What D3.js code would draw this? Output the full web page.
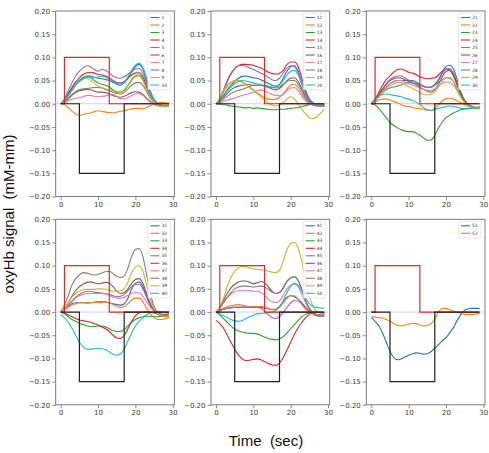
<!DOCTYPE html>
<html>
<head>
<meta charset="utf-8">
<script src="https://cdn.jsdelivr.net/npm/d3@7/dist/d3.min.js"></script>
<style>
  body { margin: 0; background: #fff; }
  text { font-family: "DejaVu Sans", sans-serif; }
  .big-label { font-family: "Liberation Sans", Arial, sans-serif; white-space: pre; }
</style>
</head>
<body>
<div id="chart"></div>
<script>

// time axis (sec) and tick values
var time = [0,1,2,3,4,5,6,7,8,9,10,11,12,13,14,15,16,17,18,19,20,21,22,23,24,25,26,27,28,29];
var ticks_x = [0, 10, 20, 30];
var ticks_y = [-0.20, -0.15, -0.10, -0.05, 0.00, 0.05, 0.10, 0.15, 0.20];

// matplotlib default colour cycle
var colours = ["#1f77b4", "#ff7f0e", "#2ca02c", "#d62728", "#9467bd",
               "#8c564b", "#e377c2", "#7f7f7f", "#bcbd22", "#17becf"];

// stimulus boxes
var red_box_x = [0, 1, 1, 13, 13, 29];
var red_box_y = [0, 0, 0.10, 0.10, 0, 0];
var black_box_x = [0, 5, 5, 17, 17, 29];
var black_box_y = [0, 0, -0.15, -0.15, 0, 0];

// channel names per panel
var channels_1 = ["1","2","3","4","5","6","7","8","9","10"];
var channels_2 = ["11","12","13","14","15","16","17","18","19","20"];
var channels_3 = ["21","22","23","24","25","26","27","28","29","30"];
var channels_4 = ["31","32","33","34","35","36","37","38","39","40"];
var channels_5 = ["41","42","43","44","45","46","47","48","49","50"];
var channels_6 = ["51","52"];

// oxyHb signal per channel, one value per second
var values_1 = [
  [0,0.008,0.02,0.032,0.042,0.05,0.056,0.06,0.06,0.057,0.055,0.054,0.052,0.05,0.046,0.042,0.04,0.045,0.055,0.068,0.08,0.085,0.075,0.05,0.025,0.008,0,-0.005,-0.005,-0.004],
  [0,-0.002,-0.008,-0.016,-0.022,-0.025,-0.023,-0.021,-0.02,-0.017,-0.015,-0.016,-0.018,-0.019,-0.02,-0.018,-0.016,-0.015,-0.013,-0.011,-0.01,-0.01,-0.011,-0.008,-0.004,0,0.002,0.003,0.002,0.001],
  [0,0.006,0.018,0.03,0.042,0.05,0.056,0.058,0.056,0.05,0.045,0.042,0.04,0.036,0.03,0.026,0.025,0.03,0.04,0.052,0.06,0.062,0.052,0.034,0.016,0.005,-0.002,-0.005,-0.006,-0.004],
  [0,0.008,0.022,0.035,0.047,0.056,0.063,0.067,0.068,0.066,0.063,0.062,0.06,0.056,0.05,0.046,0.045,0.048,0.055,0.062,0.066,0.067,0.058,0.038,0.018,0.005,-0.002,-0.005,-0.006,-0.004],
  [0,0.01,0.028,0.045,0.06,0.07,0.078,0.082,0.08,0.074,0.07,0.074,0.072,0.066,0.06,0.056,0.055,0.058,0.064,0.07,0.075,0.076,0.066,0.045,0.022,0.007,0,-0.004,-0.005,-0.003],
  [0,0.003,0.01,0.018,0.024,0.028,0.03,0.031,0.03,0.027,0.025,0.025,0.024,0.021,0.018,0.015,0.014,0.016,0.02,0.024,0.026,0.025,0.02,0.012,0.005,0,-0.003,-0.005,-0.006,-0.005],
  [0,0.002,0.006,0.01,0.012,0.013,0.015,0.018,0.018,0.016,0.015,0.016,0.017,0.019,0.02,0.016,0.011,0.01,0.013,0.018,0.021,0.022,0.018,0.01,0.003,-0.002,-0.005,-0.006,-0.006,-0.005],
  [0,0.004,0.012,0.02,0.026,0.03,0.032,0.033,0.034,0.035,0.035,0.034,0.031,0.028,0.025,0.022,0.021,0.024,0.032,0.04,0.045,0.046,0.04,0.026,0.012,0.003,-0.001,-0.003,-0.004,-0.003],
  [0,0.006,0.016,0.028,0.04,0.048,0.053,0.055,0.05,0.044,0.038,0.035,0.032,0.03,0.027,0.024,0.024,0.028,0.038,0.05,0.058,0.06,0.05,0.032,0.015,0.004,-0.003,-0.006,-0.007,-0.005],
  [0,0.006,0.018,0.03,0.04,0.048,0.054,0.058,0.058,0.056,0.058,0.06,0.057,0.053,0.048,0.044,0.042,0.047,0.058,0.072,0.083,0.087,0.078,0.055,0.028,0.01,0.002,-0.003,-0.004,-0.003]
];
var values_2 = [
  [0,0.006,0.018,0.03,0.04,0.048,0.055,0.059,0.06,0.058,0.056,0.055,0.052,0.048,0.044,0.04,0.038,0.042,0.055,0.07,0.08,0.082,0.07,0.045,0.02,0.006,0,-0.003,-0.004,-0.003],
  [0,0.01,0.025,0.038,0.046,0.05,0.05,0.046,0.042,0.036,0.03,0.024,0.018,0.013,0.01,0.009,0.01,0.014,0.022,0.032,0.04,0.042,0.035,0.022,0.01,0.002,-0.002,-0.004,-0.005,-0.004],
  [0,-0.001,-0.002,-0.003,-0.005,-0.006,-0.007,-0.008,-0.009,-0.008,-0.01,-0.009,-0.01,-0.011,-0.012,-0.013,-0.013,-0.012,-0.012,-0.011,-0.01,-0.009,-0.008,-0.006,-0.004,-0.002,0,0,-0.001,-0.001],
  [0,0.01,0.028,0.048,0.064,0.075,0.082,0.085,0.085,0.084,0.083,0.08,0.077,0.073,0.068,0.065,0.064,0.066,0.072,0.085,0.09,0.09,0.08,0.055,0.028,0.01,0.002,-0.002,-0.004,-0.003],
  [0,0.01,0.03,0.05,0.066,0.076,0.082,0.083,0.081,0.077,0.074,0.07,0.066,0.062,0.057,0.052,0.05,0.055,0.066,0.077,0.082,0.08,0.068,0.045,0.022,0.007,0,-0.004,-0.005,-0.004],
  [0,0.005,0.014,0.022,0.03,0.035,0.038,0.04,0.041,0.041,0.04,0.04,0.04,0.038,0.035,0.032,0.03,0.033,0.04,0.05,0.055,0.056,0.048,0.032,0.015,0.004,-0.002,-0.005,-0.006,-0.005],
  [0,0.002,0.005,0.008,0.01,0.012,0.015,0.018,0.02,0.022,0.025,0.028,0.03,0.028,0.024,0.02,0.018,0.017,0.02,0.028,0.034,0.035,0.028,0.016,0.006,0,-0.003,-0.005,-0.005,-0.004],
  [0,0.004,0.01,0.016,0.022,0.026,0.029,0.031,0.034,0.037,0.04,0.04,0.04,0.039,0.037,0.035,0.034,0.036,0.042,0.048,0.05,0.05,0.042,0.028,0.013,0.003,-0.002,-0.004,-0.005,-0.004],
  [0,0.012,0.028,0.04,0.046,0.048,0.05,0.048,0.042,0.035,0.028,0.022,0.015,0.008,0.002,-0.003,-0.005,-0.003,0.002,0.01,0.015,0.01,0,-0.012,-0.022,-0.03,-0.032,-0.028,-0.02,-0.012],
  [0,0.006,0.016,0.027,0.036,0.043,0.048,0.05,0.049,0.047,0.045,0.043,0.041,0.04,0.038,0.036,0.035,0.04,0.05,0.062,0.07,0.072,0.062,0.04,0.018,0.005,-0.001,-0.004,-0.005,-0.004]
];
var values_3 = [
  [0,0.008,0.018,0.028,0.036,0.043,0.048,0.05,0.05,0.05,0.05,0.05,0.047,0.042,0.038,0.035,0.036,0.042,0.052,0.068,0.08,0.083,0.075,0.052,0.025,0.008,-0.001,-0.006,-0.008,-0.007],
  [0,0.004,0.008,0.01,0.01,0.008,0.005,0.002,-0.002,-0.005,-0.006,-0.008,-0.01,-0.01,-0.012,-0.014,-0.015,-0.01,-0.002,0.006,0.011,0.012,0.01,0.006,0.002,-0.002,-0.006,-0.008,-0.01,-0.01],
  [0,-0.003,-0.01,-0.02,-0.03,-0.04,-0.047,-0.052,-0.056,-0.059,-0.06,-0.06,-0.063,-0.068,-0.074,-0.079,-0.078,-0.068,-0.052,-0.04,-0.03,-0.025,-0.02,-0.016,-0.013,-0.011,-0.01,-0.01,-0.009,-0.008],
  [0,0.01,0.025,0.04,0.052,0.06,0.068,0.074,0.075,0.072,0.068,0.066,0.063,0.058,0.055,0.054,0.055,0.056,0.062,0.07,0.075,0.073,0.06,0.04,0.02,0.006,-0.002,-0.006,-0.008,-0.008],
  [0,0.008,0.02,0.032,0.043,0.052,0.057,0.06,0.06,0.056,0.051,0.047,0.044,0.04,0.037,0.035,0.035,0.04,0.05,0.065,0.075,0.076,0.066,0.045,0.022,0.006,-0.003,-0.007,-0.009,-0.008],
  [0,0.008,0.02,0.032,0.042,0.05,0.054,0.056,0.055,0.052,0.048,0.045,0.041,0.036,0.031,0.027,0.025,0.03,0.042,0.058,0.07,0.072,0.062,0.042,0.02,0.005,-0.004,-0.008,-0.01,-0.009],
  [0,0.006,0.016,0.027,0.036,0.043,0.048,0.05,0.05,0.047,0.043,0.04,0.037,0.034,0.031,0.029,0.029,0.032,0.038,0.044,0.047,0.046,0.04,0.028,0.014,0.004,-0.003,-0.007,-0.009,-0.008],
  [0,0.006,0.015,0.024,0.03,0.034,0.036,0.038,0.041,0.044,0.046,0.045,0.043,0.04,0.038,0.036,0.036,0.04,0.046,0.052,0.056,0.055,0.048,0.032,0.016,0.004,-0.003,-0.006,-0.008,-0.007],
  [0,0.006,0.015,0.024,0.032,0.038,0.043,0.046,0.046,0.042,0.037,0.033,0.029,0.024,0.02,0.019,0.02,0.025,0.036,0.048,0.056,0.057,0.048,0.03,0.013,0.002,-0.005,-0.008,-0.01,-0.009],
  [0,0.008,0.016,0.02,0.021,0.02,0.018,0.017,0.015,0.012,0.01,0.007,0.003,-0.002,-0.008,-0.013,-0.014,-0.012,-0.01,-0.008,-0.006,-0.005,-0.006,-0.008,-0.01,-0.011,-0.011,-0.01,-0.009,-0.008]
];
var values_4 = [
  [0,0.006,0.012,0.018,0.02,0.02,0.02,0.02,0.02,0.021,0.022,0.022,0.022,0.02,0.018,0.016,0.015,0.018,0.03,0.05,0.062,0.065,0.055,0.035,0.015,0.003,-0.004,-0.007,-0.008,-0.007],
  [0,0.004,0.01,0.015,0.018,0.02,0.02,0.019,0.02,0.021,0.02,0.02,0.021,0.02,0.016,0.012,0.01,0.012,0.018,0.026,0.03,0.03,0.022,0.008,-0.004,-0.012,-0.016,-0.016,-0.014,-0.012],
  [0,-0.004,-0.01,-0.016,-0.02,-0.024,-0.027,-0.03,-0.031,-0.031,-0.03,-0.03,-0.032,-0.036,-0.04,-0.042,-0.042,-0.038,-0.03,-0.022,-0.016,-0.012,-0.01,-0.009,-0.009,-0.01,-0.01,-0.009,-0.008,-0.007],
  [0,-0.002,-0.006,-0.01,-0.014,-0.017,-0.019,-0.02,-0.022,-0.025,-0.028,-0.032,-0.036,-0.042,-0.05,-0.056,-0.057,-0.05,-0.036,-0.02,-0.008,-0.002,0,0.001,0,-0.002,-0.004,-0.005,-0.005,-0.004],
  [0,0.006,0.015,0.024,0.032,0.038,0.042,0.045,0.045,0.043,0.042,0.041,0.04,0.038,0.035,0.033,0.034,0.038,0.046,0.055,0.06,0.06,0.05,0.032,0.014,0.002,-0.005,-0.008,-0.009,-0.008],
  [0,0.008,0.02,0.034,0.046,0.055,0.06,0.064,0.065,0.063,0.061,0.062,0.064,0.062,0.055,0.045,0.04,0.042,0.05,0.062,0.07,0.072,0.062,0.04,0.018,0.004,-0.004,-0.008,-0.009,-0.008],
  [0,0.005,0.014,0.022,0.03,0.035,0.038,0.04,0.04,0.04,0.04,0.04,0.039,0.036,0.032,0.03,0.03,0.032,0.036,0.04,0.042,0.041,0.034,0.022,0.01,0.002,-0.003,-0.006,-0.007,-0.006],
  [0,0.015,0.035,0.058,0.072,0.08,0.085,0.084,0.082,0.08,0.081,0.084,0.087,0.088,0.083,0.077,0.074,0.078,0.095,0.12,0.135,0.137,0.12,0.08,0.04,0.012,0,-0.005,-0.007,-0.006],
  [0,0.008,0.02,0.032,0.04,0.045,0.048,0.049,0.049,0.049,0.05,0.05,0.049,0.047,0.045,0.045,0.046,0.05,0.065,0.085,0.097,0.1,0.088,0.058,0.028,0.008,-0.003,-0.008,-0.01,-0.009],
  [-0.005,-0.012,-0.022,-0.035,-0.05,-0.065,-0.075,-0.08,-0.08,-0.079,-0.078,-0.079,-0.081,-0.086,-0.091,-0.093,-0.09,-0.08,-0.062,-0.045,-0.03,-0.02,-0.012,-0.006,-0.002,0,0.001,0.001,0,-0.001]
];
var values_5 = [
  [0,0.003,0.006,0.008,0.01,0.01,0.01,0.011,0.011,0.01,0.01,0.01,0.01,0.009,0.007,0.005,0.006,0.012,0.022,0.032,0.035,0.033,0.028,0.02,0.01,0.002,-0.004,-0.008,-0.009,-0.008],
  [0,0.004,0.008,0.012,0.014,0.015,0.016,0.015,0.013,0.012,0.012,0.012,0.012,0.01,0.008,0.006,0.006,0.01,0.02,0.03,0.035,0.035,0.028,0.016,0.006,0,-0.005,-0.008,-0.009,-0.008],
  [0,-0.006,-0.014,-0.022,-0.03,-0.037,-0.041,-0.043,-0.045,-0.046,-0.046,-0.047,-0.05,-0.054,-0.057,-0.059,-0.06,-0.058,-0.053,-0.045,-0.036,-0.027,-0.018,-0.01,-0.005,-0.002,0,0,-0.001,-0.002],
  [-0.018,-0.025,-0.035,-0.05,-0.065,-0.08,-0.093,-0.101,-0.105,-0.104,-0.102,-0.101,-0.103,-0.107,-0.111,-0.114,-0.115,-0.11,-0.098,-0.082,-0.065,-0.048,-0.034,-0.022,-0.012,-0.005,-0.001,0,-0.002,-0.004],
  [0,0.003,0.006,0.008,0.009,0.01,0.01,0.01,0.01,0.01,0.01,0.01,0.008,0.002,-0.006,-0.012,-0.014,-0.01,0,0.01,0.02,0.025,0.024,0.018,0.01,0.003,-0.002,-0.005,-0.006,-0.006],
  [0,0.01,0.025,0.04,0.052,0.06,0.065,0.067,0.067,0.064,0.061,0.063,0.066,0.063,0.055,0.045,0.04,0.042,0.052,0.066,0.074,0.076,0.068,0.048,0.025,0.008,-0.002,-0.007,-0.009,-0.008],
  [0,0.008,0.02,0.031,0.039,0.044,0.046,0.047,0.047,0.046,0.045,0.045,0.042,0.036,0.028,0.022,0.02,0.024,0.036,0.05,0.058,0.06,0.054,0.038,0.02,0.006,-0.002,-0.006,-0.008,-0.007],
  [0,0.008,0.02,0.032,0.042,0.05,0.054,0.056,0.056,0.055,0.054,0.055,0.056,0.054,0.049,0.043,0.04,0.042,0.052,0.066,0.074,0.076,0.068,0.048,0.024,0.007,-0.002,-0.007,-0.009,-0.008],
  [0,0.01,0.03,0.055,0.075,0.088,0.095,0.099,0.098,0.095,0.093,0.092,0.091,0.09,0.088,0.086,0.085,0.09,0.11,0.135,0.148,0.15,0.138,0.108,0.07,0.035,0.012,0.002,-0.003,-0.004],
  [0,-0.004,-0.008,-0.012,-0.016,-0.019,-0.02,-0.018,-0.014,-0.01,-0.007,-0.004,-0.003,-0.002,-0.001,0,0.004,0.012,0.025,0.042,0.056,0.062,0.058,0.045,0.03,0.018,0.012,0.01,0.009,0.008]
];
var values_6 = [
  [-0.012,-0.02,-0.03,-0.045,-0.065,-0.085,-0.098,-0.103,-0.101,-0.097,-0.093,-0.09,-0.088,-0.089,-0.091,-0.09,-0.085,-0.078,-0.07,-0.062,-0.055,-0.045,-0.033,-0.018,-0.005,0.004,0.007,0.008,0.008,0.008],
  [-0.01,-0.011,-0.012,-0.013,-0.016,-0.02,-0.025,-0.029,-0.03,-0.028,-0.026,-0.024,-0.025,-0.028,-0.03,-0.029,-0.025,-0.015,0,0.008,0.008,0.005,0.002,0,-0.003,-0.005,-0.005,-0.005,-0.004,-0.003]
];

// panel layout (pixel positions of the axes boxes)
var panel_width = 118.7,
    panel_height = 185.5,
    panel_left = [55.7, 211, 366.3],
    panel_top = [11, 219.3];

var svg = d3.select("#chart").append("svg")
    .attr("width", 489)
    .attr("height", 453);

// draws one subplot
function draw_panel(left, top, channels, values){

  var x = d3.scaleLinear().domain([-1.35, 30.45]).range([left, left + panel_width]);
  var y = d3.scaleLinear().domain([-0.2, 0.2]).range([top + panel_height, top]);

  var g = svg.append("g");

  // white axes background + frame
  g.append("rect")
    .attr("x", left).attr("y", top)
    .attr("width", panel_width).attr("height", panel_height)
    .attr("fill", "#fff")
    .attr("stroke", "#6f6f6f")
    .attr("stroke-width", 0.9);

  // thin zero line
  g.append("line")
    .attr("x1", x.range()[0]).attr("x2", x.range()[1])
    .attr("y1", y(0)).attr("y2", y(0))
    .attr("stroke", "#c8c8c8")
    .attr("stroke-width", 0.8);

  // axes
  var fmt = function(d){ return d3.format(".2f")(d).replace("-", "\u2212"); };

  var xAxis = g.append("g")
    .attr("transform", "translate(0," + (top + panel_height) + ")")
    .call(d3.axisBottom(x).tickValues(ticks_x).tickSize(3.5).tickPadding(2));
  var yAxis = g.append("g")
    .attr("transform", "translate(" + left + ",0)")
    .call(d3.axisLeft(y).tickValues(ticks_y).tickFormat(fmt).tickSize(3.5).tickPadding(2));

  [xAxis, yAxis].forEach(function(a){
    a.select(".domain").remove();
    a.selectAll(".tick line").attr("stroke", "#6f6f6f").attr("stroke-width", 0.8);
    a.selectAll(".tick text")
      .attr("fill", "#3a3a3a")
      .style("font-size", "7px")
      .style("font-family", "DejaVu Sans");
  });

  // channel curves
  var line = d3.line()
    .x(function(d, i){ return x(time[i]); })
    .y(function(d){ return y(d); })
    .curve(d3.curveMonotoneX);

  values.forEach(function(v, i){
    g.append("path")
      .attr("d", line(v))
      .attr("fill", "none")
      .attr("stroke", colours[i % 10])
      .attr("stroke-width", 1.1);
  });

  // stimulus boxes
  var box = d3.line()
    .x(function(d){ return x(d[0]); })
    .y(function(d){ return y(d[1]); });

  g.append("path")
    .attr("d", box(d3.zip(red_box_x, red_box_y)))
    .attr("fill", "none")
    .attr("stroke", "#e8262a")
    .attr("stroke-width", 1.2);
  g.append("path")
    .attr("d", box(d3.zip(black_box_x, black_box_y)))
    .attr("fill", "none")
    .attr("stroke", "#222")
    .attr("stroke-width", 1.2);

  // legend
  var row = 7.5,
      lw = 22.5,
      lh = channels.length * row + 1.5,
      lx = left + panel_width - 4 - lw,
      ly = top + 2.3;

  g.append("rect")
    .attr("x", lx).attr("y", ly)
    .attr("width", lw).attr("height", lh)
    .attr("rx", 1)
    .attr("fill", "#fff")
    .attr("fill-opacity", 0.85)
    .attr("stroke", "#d8d8d8")
    .attr("stroke-width", 0.6);

  channels.forEach(function(c, i){
    var yy = ly + 4.2 + i * row;
    g.append("line")
      .attr("x1", lx + 2.5).attr("x2", lx + 11.5)
      .attr("y1", yy).attr("y2", yy)
      .attr("stroke", colours[i % 10])
      .attr("stroke-width", 1.1);
    g.append("text")
      .attr("x", lx + 13.5).attr("y", yy + 1.6)
      .attr("fill", "#333")
      .style("font-size", "4.5px")
      .text(c);
  });
}

draw_panel(panel_left[0], panel_top[0], channels_1, values_1);
draw_panel(panel_left[1], panel_top[0], channels_2, values_2);
draw_panel(panel_left[2], panel_top[0], channels_3, values_3);
draw_panel(panel_left[0], panel_top[1], channels_4, values_4);
draw_panel(panel_left[1], panel_top[1], channels_5, values_5);
draw_panel(panel_left[2], panel_top[1], channels_6, values_6);

// shared axis labels
svg.append("text")
  .attr("class", "big-label")
  .attr("x", 266).attr("y", 446)
  .attr("text-anchor", "middle")
  .style("font-size", "15px")
  .attr("fill", "#111")
  .text("Time  (sec)");

svg.append("text")
  .attr("class", "big-label")
  .attr("transform", "translate(14,214) rotate(-90)")
  .attr("text-anchor", "middle")
  .style("font-size", "15px")
  .attr("fill", "#111")
  .text("oxyHb signal  (mM-mm)");

</script>
</body>
</html>
